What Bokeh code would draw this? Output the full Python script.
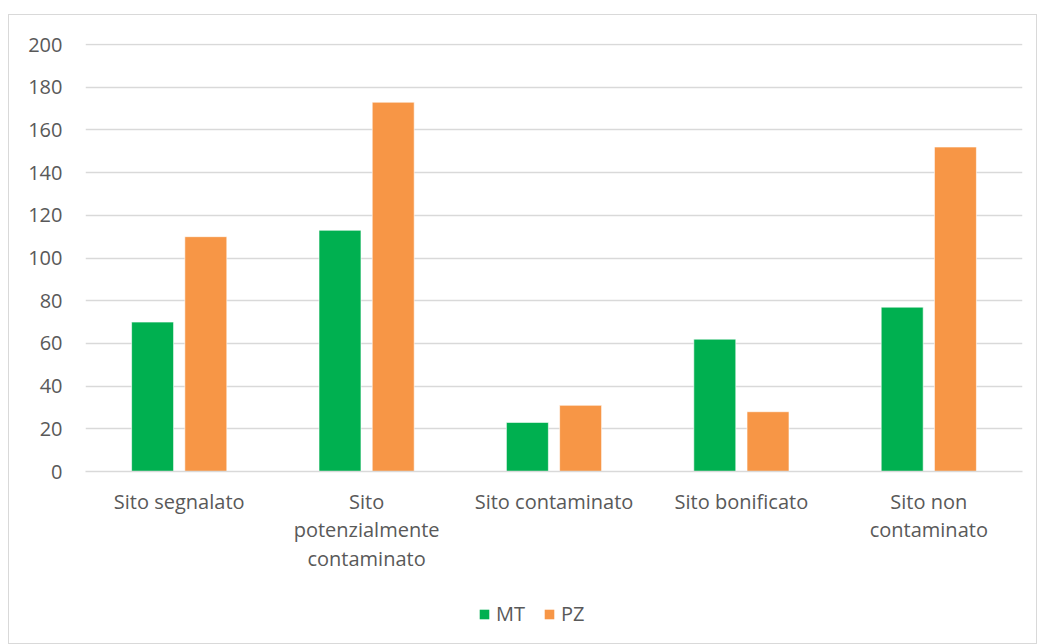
from bokeh.plotting import figure
from bokeh.layouts import column
from bokeh.models import ColumnDataSource, FactorRange, Legend, LegendItem, FixedTicker, Range1d
from bokeh.transform import dodge
from bokeh.embed import file_html
from bokeh.resources import INLINE

categories = ["Sito segnalato", "Sito\npotenzialmente\ncontaminato", "Sito contaminato",
              "Sito bonificato", "Sito non\ncontaminato"]
mt_values = [70, 113, 23, 62, 77]
pz_values = [110, 173, 31, 28, 152]
series_names = ["MT", "PZ"]
series_colors = ["#00b050", "#f79646"]
y_ticks = [0, 20, 40, 60, 80, 100, 120, 140, 160, 180, 200]

source = ColumnDataSource(dict(cat=categories, mt=mt_values, pz=pz_values))

FONT = "Open Sans"
TXT = "#595959"
GRID = "#d9d9d9"
FS = "20px"

p = figure(width=1027, height=575, output_backend="svg", toolbar_location=None,
           x_range=FactorRange(*categories, range_padding=0), y_range=Range1d(0, 200.5),
           min_border_left=76, min_border_top=28, min_border_right=14, min_border_bottom=119)
p.outline_line_color = None

r1 = p.vbar(x=dodge("cat", -0.142, range=p.x_range), top="mt", width=0.224, source=source,
            fill_color=series_colors[0], line_color="#ffffff", line_width=0.6)
r2 = p.vbar(x=dodge("cat", 0.142, range=p.x_range), top="pz", width=0.224, source=source,
            fill_color=series_colors[1], line_color="#ffffff", line_width=0.6)

p.xgrid.grid_line_color = None
p.ygrid.grid_line_color = GRID
p.ygrid.grid_line_width = 1.5
p.yaxis.ticker = FixedTicker(ticks=y_ticks)
p.yaxis.axis_line_color = None
p.yaxis.major_tick_line_color = None
p.yaxis.minor_tick_line_color = None
p.yaxis.major_label_standoff = 17
p.yaxis.major_label_text_font = FONT
p.yaxis.major_label_text_font_size = FS
p.yaxis.major_label_text_color = TXT

p.xaxis.axis_line_color = GRID
p.xaxis.axis_line_width = 1.5
p.xaxis.major_tick_line_color = None
p.xaxis.minor_tick_line_color = None
p.xaxis.major_label_standoff = 10
p.xaxis.major_label_text_font = FONT
p.xaxis.major_label_text_font_size = FS
p.xaxis.major_label_text_color = TXT
p.xaxis.major_label_text_line_height = 1.07

# legend strip below the chart
lf = figure(width=1027, height=53, output_backend="svg", toolbar_location=None,
            x_axis_type=None, y_axis_type=None,
            min_border_left=0, min_border_right=0, min_border_top=0, min_border_bottom=0)
lf.outline_line_color = None
lf.xgrid.grid_line_color = None
lf.ygrid.grid_line_color = None
swatch = ColumnDataSource(dict(x=[0], top=[0]))
d1 = lf.vbar(x="x", top="top", width=0.001, source=swatch, fill_color=series_colors[0], line_color=None)
d2 = lf.vbar(x="x", top="top", width=0.001, source=swatch, fill_color=series_colors[1], line_color=None)

legend = Legend(items=[LegendItem(label=series_names[0], renderers=[d1]),
                       LegendItem(label=series_names[1], renderers=[d2])],
                orientation="horizontal", location=(393, 16),
                glyph_width=12, glyph_height=12, label_standoff=6, spacing=18,
                padding=0, margin=0, border_line_color=None, background_fill_alpha=0,
                label_text_font=FONT, label_text_font_size=FS, label_text_color=TXT)
lf.add_layout(legend, "center")

layout = column(p, lf, spacing=0)
layout.styles = {"border": "1px solid #d9d9d9", "margin-top": "14px", "margin-left": "8px"}

open("out.html", "w").write(file_html(layout, INLINE))
